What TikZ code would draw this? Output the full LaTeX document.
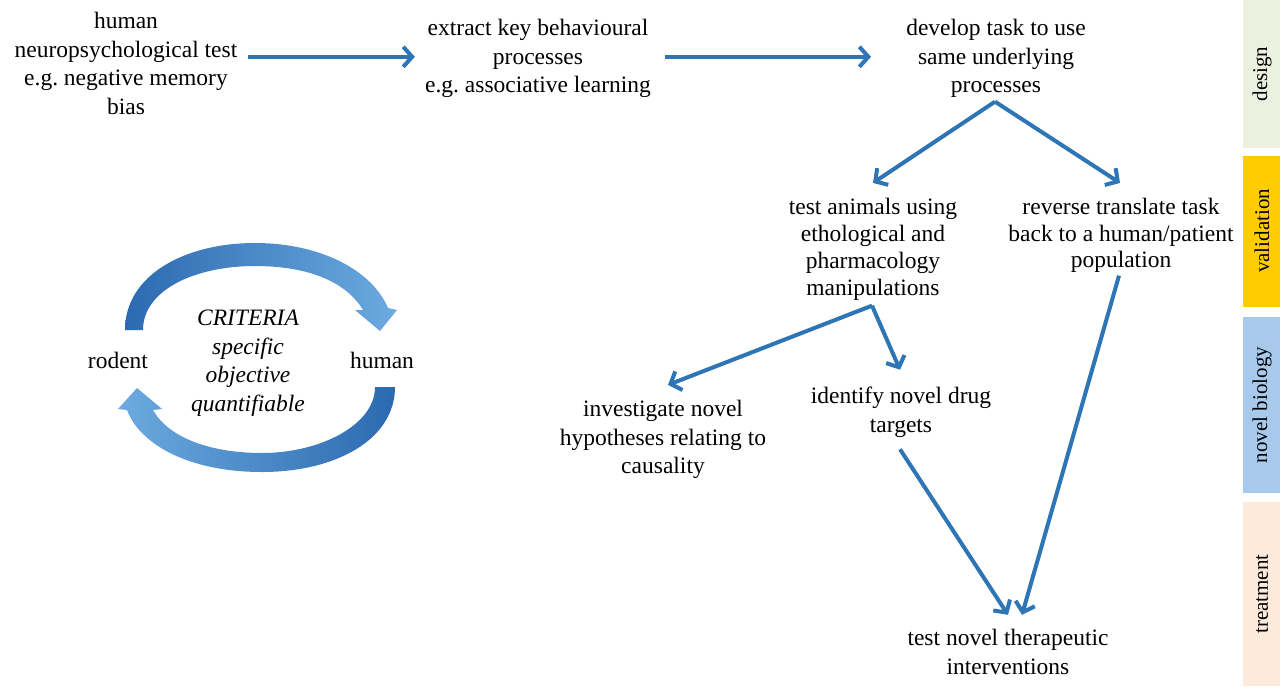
\documentclass[tikz,border=0pt]{standalone}
\usepackage{fontspec}
\setmainfont{Liberation Serif}
\usetikzlibrary{arrows.meta,calc}
\definecolor{arrblue}{RGB}{46,117,182}
\definecolor{arcdark}{RGB}{44,106,176}
\definecolor{arclight}{RGB}{108,170,224}
\definecolor{cdesign}{RGB}{235,241,222}
\definecolor{cvalid}{RGB}{255,204,0}
\definecolor{cnovel}{RGB}{167,202,236}
\definecolor{ctreat}{RGB}{253,234,218}
\frenchspacing
\begin{document}
\begin{tikzpicture}[x=1pt,y=-1pt,
  txt/.style={align=center,font=\fontsize{23.5}{28.5}\selectfont,inner sep=2pt},
  arr/.style={draw=arrblue,line width=4pt,-{Straight Barb[length=9pt,width=20pt]}},
  side/.style={rotate=90,font=\fontsize{21}{24}\selectfont,inner sep=0pt}]
\useasboundingbox (0,0) rectangle (1282,686);
\fill[white] (0,0) rectangle (1282,686);

% sidebar
\fill[cdesign] (1243,0) rectangle (1280,148);
\fill[cvalid]  (1243,156) rectangle (1280,307);
\fill[cnovel]  (1243,317) rectangle (1280,493);
\fill[ctreat]  (1243,502) rectangle (1280,686);
\node[side] (sd) at (1262,74) {design};
\node[side] (sv) at (1262,231) {validation};
\node[side] (sn) at (1262,405) {novel biology};
\node[side] (st) at (1262,594) {treatment};

% text nodes
\node[txt] (A) at (126,63.5) {human\\neuropsychological test\\e.g. negative memory\\bias};
\node[txt] (B) at (538,58.8) {extract key behavioural\\processes\\e.g. associative learning};
\node[txt] (C) at (996,58.8) {develop task to use\\same underlying\\processes};
\node[txt,font=\fontsize{23.5}{27}\selectfont] (D) at (873,249.8) {test animals using\\ethological and\\pharmacology\\manipulations};
\node[txt,font=\fontsize{23.5}{26.5}\selectfont] (E) at (1121,235.8) {reverse translate task\\back to a human/patient\\population};
\node[txt] (F) at (663,439.8) {investigate novel\\hypotheses relating to\\causality};
\node[txt] (G) at (901,412.5) {identify novel drug\\targets};
\node[txt] (H) at (1008,652) {test novel therapeutic\\interventions};
\node[txt] (rod) at (118,360.5) {rodent};
\node[txt] (hum) at (382,360.5) {human};
\node[txt,font=\fontsize{23.5}{28.5}\selectfont\itshape] (crit) at (248,363) {CRITERIA\\specific\\objective\\quantifiable};

% connectors
\draw[arr,shorten <=9pt,shorten >=8pt] ($(A.east |- B.west)+(0,-2)$) -- ($(B.west)+(0,-2)$);
\draw[arr,shorten <=12pt,shorten >=33pt] ($(B.east)+(0,-2)$) -- ($(C.west |- B.east)+(0,-2)$);
\draw[arr] ($(C.south)+(-1,1.5)$) -- ($(D.north)+(0,-13.5)$);
\draw[arr] ($(C.south)+(-1,1.5)$) -- ($(E.north)+(-1,-13.5)$);
\draw[arr] ($(D.south)+(-1,2.5)$) -- ($(F.north)+(5,-13.5)$);
\draw[arr] ($(D.south)+(-1,2.5)$) -- ($(G.north)+(-1,-15.5)$);
\draw[arr] ($(G.south)+(-1,9.5)$) -- ($(H.north)+(0,-12.5)$);
\draw[arr] ($(E.south)+(-2,0.5)$) -- ($(H.north)+(14,-12.5)$);

% circular block arrows
\shade[left color=arcdark,right color=arclight]
  (125,330) .. controls (125,275) and (185,243) .. (255,243)
  .. controls (320,243) and (372,270) .. (388,308)
  -- (397,310) -- (380,331) -- (355,310) -- (363,310)
  .. controls (345,280) and (305,266) .. (255,266)
  .. controls (195,266) and (143,290) .. (143,330) -- cycle;
\shade[left color=arclight,right color=arcdark]
  (395,387) .. controls (395,440) and (335,472) .. (262,472)
  .. controls (190,472) and (140,445) .. (127,410)
  -- (118,409) -- (137,388) -- (162,409) -- (153,410)
  .. controls (170,440) and (215,453) .. (262,453)
  .. controls (320,453) and (375,425) .. (375,387) -- cycle;
\end{tikzpicture}
\end{document}
